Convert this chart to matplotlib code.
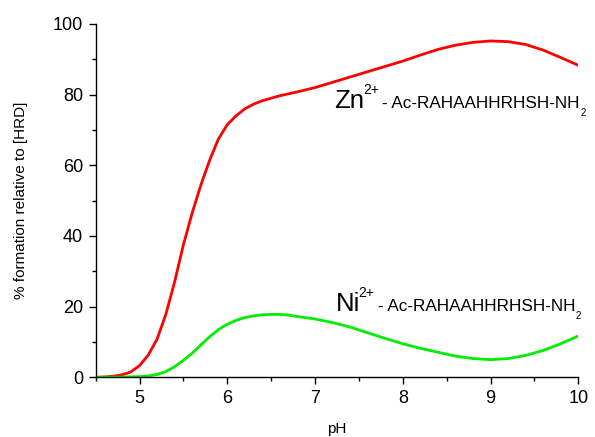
import matplotlib
matplotlib.use("Agg")
import matplotlib.pyplot as plt
from matplotlib.ticker import MultipleLocator

plt.rcParams['font.family'] = ['Liberation Sans', 'DejaVu Sans']

# Species distribution: % formation vs pH
ph_zn = [4.5, 4.6, 4.7, 4.8, 4.9, 5.0, 5.1, 5.2, 5.3, 5.4, 5.5, 5.6, 5.7, 5.8,
         5.9, 6.0, 6.1, 6.2, 6.3, 6.4, 6.5, 6.6, 6.8, 7.0, 7.2, 7.4, 7.6, 7.8,
         8.0, 8.2, 8.4, 8.6, 8.8, 9.0, 9.2, 9.4, 9.6, 9.8, 10.0]
zn_complex = [0.0, 0.1, 0.3, 0.7, 1.5, 3.3, 6.3, 10.8, 17.8, 27.0, 37.5, 46.5,
              54.5, 61.5, 67.5, 71.5, 74.0, 76.0, 77.3, 78.3, 79.0, 79.7, 80.8,
              82.0, 83.5, 85.0, 86.5, 88.0, 89.5, 91.2, 92.8, 94.0, 94.8, 95.2,
              95.0, 94.2, 92.6, 90.5, 88.3]

ph_ni = [4.5, 4.8, 5.0, 5.1, 5.2, 5.3, 5.4, 5.5, 5.6, 5.7, 5.8, 5.9, 6.0, 6.1,
         6.2, 6.3, 6.4, 6.5, 6.6, 6.7, 6.8, 7.0, 7.2, 7.4, 7.6, 7.8, 8.0, 8.2,
         8.4, 8.6, 8.8, 9.0, 9.2, 9.4, 9.6, 9.8, 10.0]
ni_complex = [0.0, 0.05, 0.2, 0.4, 0.8, 1.6, 3.0, 4.8, 6.8, 9.2, 11.5, 13.5,
              15.0, 16.1, 16.9, 17.4, 17.7, 17.8, 17.8, 17.6, 17.2, 16.5, 15.5,
              14.2, 12.6, 11.0, 9.5, 8.2, 7.1, 6.0, 5.3, 5.0, 5.3, 6.2, 7.6,
              9.5, 11.7]

x_ticks = [5, 6, 7, 8, 9, 10]
y_ticks = [0, 20, 40, 60, 80, 100]

fig = plt.figure(figsize=(5.95, 4.37), dpi=100)
ax = fig.add_axes([0.1607, 0.1366, 0.8113, 0.8085])

ax.plot(ph_zn, zn_complex, color='#ff0000', lw=2.0)
ax.plot(ph_ni, ni_complex, color='#00ee00', lw=2.0)

ax.set_xlim(4.5, 10)
ax.set_ylim(0, 100)
ax.set_xticks(x_ticks)
ax.set_yticks(y_ticks)
ax.xaxis.set_minor_locator(MultipleLocator(0.5))
ax.yaxis.set_minor_locator(MultipleLocator(10))

for side in ('top', 'right'):
    ax.spines[side].set_visible(False)
for side in ('left', 'bottom'):
    ax.spines[side].set_linewidth(1.0)

ax.tick_params(which='major', direction='out', length=5, width=1.0,
               labelsize=13, pad=4)
ax.tick_params(which='minor', direction='out', length=3, width=1.0)

ax.set_xlabel('pH', fontsize=11, labelpad=11)
ax.set_ylabel('% formation relative to [HRD]', fontsize=11, labelpad=18)


def species_label(x, y, metal):
    base = ax.text(x, y, metal, fontsize=18.5, ha='left', va='baseline')
    sup = ax.annotate('2+', xy=(1, y), xycoords=(base, 'data'),
                      xytext=(-1.0, 9.8), textcoords='offset points',
                      fontsize=10, ha='left', va='baseline')
    pep = ax.annotate('- Ac-RAHAAHHRHSH-NH', xy=(1, y), xycoords=(sup, 'data'),
                      xytext=(2.5, 0), textcoords='offset points',
                      fontsize=12.3, ha='left', va='baseline',
                      annotation_clip=False)
    ax.annotate('2', xy=(1, y), xycoords=(pep, 'data'),
                xytext=(0.3, -5.5), textcoords='offset points',
                fontsize=7, ha='left', va='baseline', annotation_clip=False)


species_label(7.22, 76.2, 'Zn')
species_label(7.235, 18.8, 'Ni')

fig.savefig('out.png', dpi=100)
